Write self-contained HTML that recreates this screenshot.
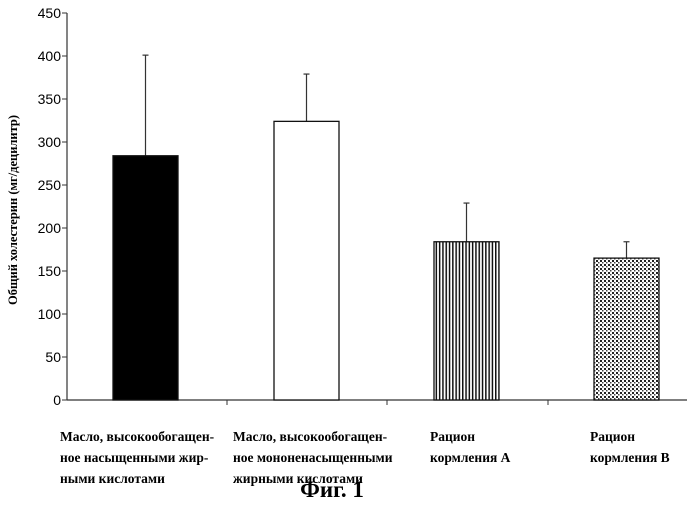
<!DOCTYPE html>
<html><head><meta charset="utf-8"><style>
body{margin:0;background:#fff}
svg text{font-family:"Liberation Serif","Noto Serif CJK SC",serif}
</style></head><body>
<svg width="687" height="500" viewBox="0 0 687 500">
<defs>
<pattern id="vstripe" width="3.3" height="4" patternUnits="userSpaceOnUse"><rect width="3.3" height="4" fill="#fff"/><rect width="1.5" height="4" fill="#111"/></pattern>
<pattern id="dots" width="4" height="4" patternUnits="userSpaceOnUse"><rect width="4" height="4" fill="#fff"/><rect x="0" y="0" width="2" height="2" fill="#222"/><rect x="2" y="2" width="1.5" height="1.5" fill="#444"/></pattern>
</defs>
<g id="axes"></g>
<g id="bars"></g>
<text x="17" y="210" transform="rotate(-90 17 210)" text-anchor="middle" font-size="12.5" font-weight="bold">Общий холестерин (мг/децилитр)</text>
<g font-size="13.5" font-weight="bold">
<text x="60" y="441">Масло, высокообогащен-</text>
<text x="60" y="462">ное насыщенными жир-</text>
<text x="60" y="483">ными кислотами</text>
<text x="233" y="441">Масло, высокообогащен-</text>
<text x="233" y="462">ное мононенасыщенными</text>
<text x="233" y="483">жирными кислотами</text>
<text x="430" y="441">Рацион</text>
<text x="430" y="462">кормления А</text>
<text x="590" y="441">Рацион</text>
<text x="590" y="462">кормления В</text>
</g>
<text x="332" y="497" text-anchor="middle" font-size="23" font-weight="bold">Фиг. 1</text>
</svg>
<script>
const categories=["Масло насыщ.","Масло мононенасыщ.","Рацион А","Рацион В"];
const means=[284,324,184,165];
const errTops=[401,379,229,184];
const yTicks=[0,50,100,150,200,250,300,350,400,450];
const fills=["#000","#fff","url(#vstripe)","url(#dots)"];
const NS="http://www.w3.org/2000/svg";
const y0=400,pxPer=0.86,axisX=67;
const y=v=>y0-v*pxPer;
const barX=[113,274,434,594],barW=65;
function mk(t,a,p){const e=document.createElementNS(NS,t);for(const k in a)e.setAttribute(k,a[k]);p.appendChild(e);return e;}
const ax=document.getElementById('axes');
const yl=mk('line',{x1:axisX,y1:y(450),x2:axisX,y2:y0,stroke:'#333','stroke-width':1.2},ax);


const xl=mk('line',{x1:axisX,y1:y0,x2:687,y2:y0,stroke:'#333','stroke-width':1.2},ax);


yTicks.forEach(t=>{
 mk('line',{x1:axisX-5,y1:y(t),x2:axisX,y2:y(t),stroke:'#333'},ax);
 const tx=mk('text',{x:axisX-6,y:y(t)+5,'text-anchor':'end','font-size':14,style:'font-family:"Liberation Sans",sans-serif'},ax);
 tx.textContent=t;
 
 
});
[227,387,548].forEach(x=>mk('line',{x1:x,y1:y0,x2:x,y2:y0+5,stroke:'#333'},ax));
const bg=document.getElementById('bars');
means.forEach((m,i)=>{
 const cx=barX[i]+barW/2;
 const e=mk('line',{x1:cx,y1:y(errTops[i]),x2:cx,y2:y(m),stroke:'#333','stroke-width':1.2},bg);
 
 
 mk('line',{x1:cx-3,y1:y(errTops[i]),x2:cx+3,y2:y(errTops[i]),stroke:'#333','stroke-width':1.2},bg);
 const r=mk('rect',{x:barX[i],y:y(m),width:barW,height:m*pxPer,fill:fills[i],stroke:'#111','stroke-width':1.3},bg);
 
 
});
</script>
</body></html>
